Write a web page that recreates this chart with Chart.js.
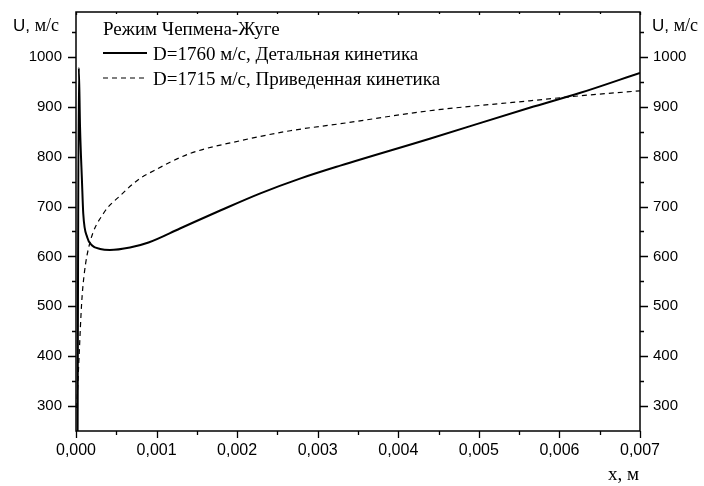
<!DOCTYPE html>
<html>
<head>
<meta charset="utf-8">
<script src="https://cdn.jsdelivr.net/npm/chart.js@4"></script>
<style>
  body { margin: 0; background: #fff; }
  canvas { display: block; }
</style>
</head>
<body>
<canvas id="chartCanvas" width="704" height="486"></canvas>
<script>
// Детальная кинетика, D=1760 м/с
var xDetailed = [0.00002, 0.000035, 0.00005, 0.000074, 0.00009, 0.00014, 0.0002, 0.0003, 0.00042, 0.00067, 0.0009, 0.00129, 0.00179, 0.00228, 0.00278, 0.00328, 0.00439, 0.00563, 0.00626, 0.007];
var uDetailed = [250, 978, 860, 752, 686, 638, 622, 615, 613, 618, 628, 656, 692, 726, 756, 782, 836, 898, 928, 968];

// Приведенная кинетика, D=1715 м/с
var xReduced = [0.00001, 0.00004, 0.00007, 0.0001, 0.00017, 0.00034, 0.00055, 0.00079, 0.00092, 0.00141, 0.00204, 0.00266, 0.00328, 0.00439, 0.00563, 0.00626, 0.007];
var uReduced = [296, 406, 506, 562, 626, 686, 722, 756, 768, 806, 832, 852, 866, 892, 912, 922, 932];

var seriesLabels = ['D=1760 м/с, Детальная кинетика', 'D=1715 м/с, Приведенная кинетика'];
var legendTitle = 'Режим Чепмена-Жуге';

var xTicks = [0, 0.001, 0.002, 0.003, 0.004, 0.005, 0.006, 0.007];
var xMinorTicks = [0.0005, 0.0015, 0.0025, 0.0035, 0.0045, 0.0055, 0.0065];
var yTicks = [300, 400, 500, 600, 700, 800, 900, 1000];
var yMinorTicks = [350, 450, 550, 650, 750, 850, 950, 1050];

var SANS = '"Liberation Sans", Arial, sans-serif';
var SERIF = '"Liberation Serif", "Times New Roman", serif';

function toPoints(xs, ys) {
  return xs.map(function (x, i) { return { x: x, y: ys[i] }; });
}

function setTicks(values) {
  return function (scale) {
    scale.ticks = values.map(function (v) { return { value: v }; });
  };
}

// фиксированные размеры осей, без автоматических отступов под подписи
function fixSize(w, h) {
  return function (scale) {
    if (w !== null) scale.width = w;
    if (h !== null) scale.height = h;
    scale.paddingTop = 0;
    scale.paddingBottom = 0;
    scale.paddingLeft = 0;
    scale.paddingRight = 0;
  };
}

// рамка, засечки, подписи осей и легенда
var decorPlugin = {
  id: 'decor',
  afterDraw: function (chart) {
    var ctx = chart.ctx;
    var area = chart.chartArea;
    var sx = chart.scales.x, sy = chart.scales.y;

    ctx.save();
    ctx.strokeStyle = '#000';
    ctx.lineWidth = 1.5;
    ctx.strokeRect(area.left, area.top, area.right - area.left, area.bottom - area.top);

    ctx.lineWidth = 1.3;
    ctx.beginPath();
    function tickX(v, len, topLen) {
      var px = Math.round(sx.getPixelForValue(v)) + 0.5;
      ctx.moveTo(px, area.bottom); ctx.lineTo(px, area.bottom + len);
      ctx.moveTo(px, area.top); ctx.lineTo(px, area.top + topLen);
    }
    function tickY(v, len) {
      var py = Math.round(sy.getPixelForValue(v)) + 0.5;
      ctx.moveTo(area.left, py); ctx.lineTo(area.left - len, py);
      ctx.moveTo(area.right, py); ctx.lineTo(area.right + len, py);
    }
    xTicks.forEach(function (v) { tickX(v, 7, 3); });
    xMinorTicks.forEach(function (v) { tickX(v, 4, 2); });
    yTicks.forEach(function (v) { tickY(v, 8); });
    yMinorTicks.forEach(function (v) { tickY(v, 4); });
    ctx.stroke();

    ctx.fillStyle = '#000';
    ctx.textBaseline = 'alphabetic';
    ctx.textAlign = 'left';

    // U, м/с слева и справа
    function uLabel(x, y) {
      ctx.font = '17px ' + SANS;
      ctx.fillText('U,', x, y);
      var w = ctx.measureText('U, ').width;
      ctx.font = '18px ' + SERIF;
      ctx.fillText('м/с', x + w, y);
    }
    uLabel(13, 31);
    uLabel(652, 31);

    ctx.font = '19px ' + SERIF;
    ctx.fillText('x, м', 608, 480);

    // легенда
    ctx.font = '19px ' + SERIF;
    ctx.fillText(legendTitle, 103, 35);
    ctx.fillText(seriesLabels[0], 153, 60);
    ctx.fillText(seriesLabels[1], 153, 85);

    ctx.lineWidth = 2;
    ctx.setLineDash([]);
    ctx.beginPath();
    ctx.moveTo(103, 53); ctx.lineTo(147, 53);
    ctx.stroke();
    ctx.lineWidth = 1.2;
    ctx.setLineDash([5, 4]);
    ctx.beginPath();
    ctx.moveTo(103, 78); ctx.lineTo(147, 78);
    ctx.stroke();
    ctx.restore();
  }
};

var chartCanvas = document.getElementById('chartCanvas');
var uChart = new Chart(chartCanvas.getContext('2d'), {
  type: 'scatter',
  data: {
    datasets: [{
      label: seriesLabels[0],
      data: toPoints(xDetailed, uDetailed),
      showLine: true,
      borderColor: '#000',
      borderWidth: 2,
      pointRadius: 0,
      cubicInterpolationMode: 'monotone'
    }, {
      label: seriesLabels[1],
      data: toPoints(xReduced, uReduced),
      showLine: true,
      borderColor: '#000',
      borderWidth: 1.2,
      borderDash: [5, 4],
      pointRadius: 0,
      cubicInterpolationMode: 'monotone'
    }]
  },
  options: {
    responsive: false,
    animation: false,
    layout: { padding: { top: 12, left: 0, right: 0, bottom: 0 } },
    plugins: {
      legend: { display: false },
      tooltip: { enabled: false }
    },
    scales: {
      x: {
        type: 'linear',
        min: 0,
        max: 0.007,
        afterBuildTicks: setTicks(xTicks),
        afterFit: fixSize(null, 55),
        grid: { display: false, drawTicks: false },
        border: { display: false },
        ticks: {
          padding: 10,
          color: '#000',
          font: { family: SANS, size: 16 },
          maxRotation: 0,
          callback: function (v) { return v.toFixed(3).replace('.', ','); }
        }
      },
      y: {
        position: 'left',
        min: 250,
        max: 1090,
        afterBuildTicks: setTicks(yTicks),
        afterFit: fixSize(76, null),
        grid: { display: false, drawTicks: false },
        border: { display: false },
        ticks: {
          padding: 14,
          color: '#000',
          font: { family: SANS, size: 15 },
          callback: function (v) { return String(v); }
        }
      },
      y2: {
        position: 'right',
        min: 250,
        max: 1090,
        afterBuildTicks: setTicks(yTicks),
        afterFit: fixSize(64, null),
        grid: { display: false, drawTicks: false },
        border: { display: false },
        ticks: {
          padding: 13,
          color: '#000',
          font: { family: SANS, size: 15 },
          callback: function (v) { return String(v); }
        }
      }
    }
  },
  plugins: [decorPlugin]
});
</script>
</body>
</html>
